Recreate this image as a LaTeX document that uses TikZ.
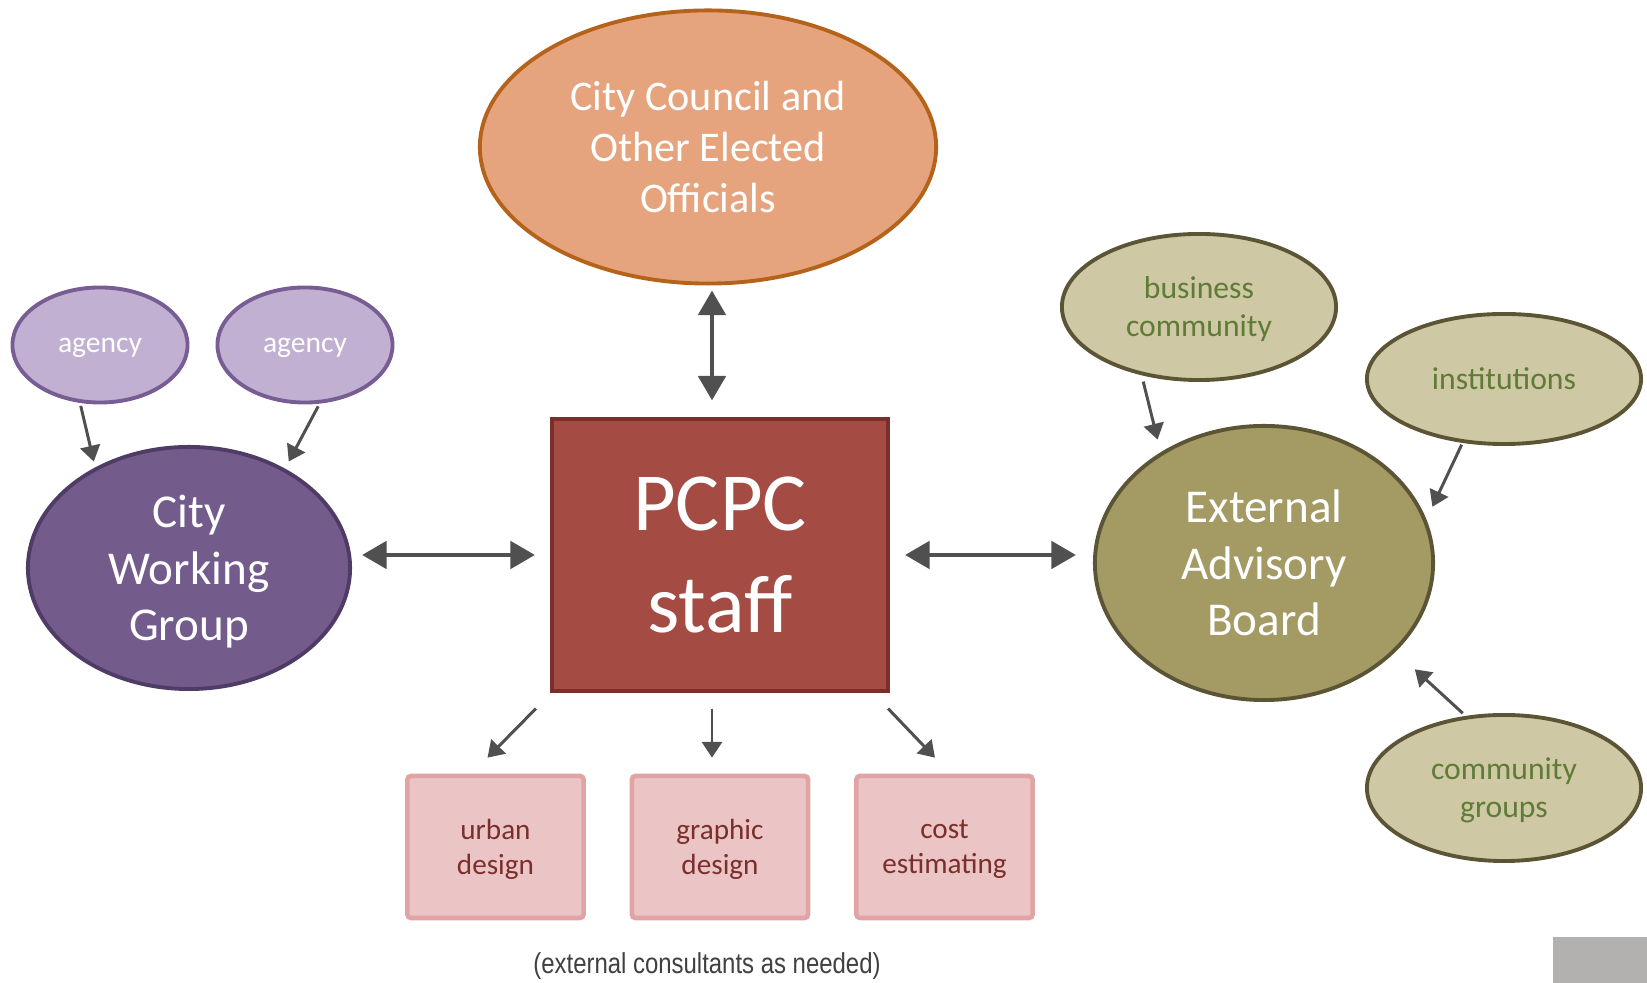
\documentclass[tikz,border=0pt]{standalone}
\usepackage{fontspec}
\setmainfont{Carlito}
\newfontfamily\capfont[FakeStretch=0.83]{Liberation Sans}
\usepackage{tikz}
\usetikzlibrary{arrows.meta,shapes.geometric,positioning,calc}
\usepackage{xcolor}

\definecolor{councilfill}{HTML}{E5A47D}
\definecolor{councilline}{HTML}{B5621A}
\definecolor{stafffill}{HTML}{A44B44}
\definecolor{staffline}{HTML}{7A2F2B}
\definecolor{cwgfill}{HTML}{735C8C}
\definecolor{cwgline}{HTML}{4E3B66}
\definecolor{agencyfill}{HTML}{C1B0D2}
\definecolor{agencyline}{HTML}{775D94}
\definecolor{eabfill}{HTML}{A39A64}
\definecolor{eabline}{HTML}{5B5536}
\definecolor{olivefill}{HTML}{CFC8A5}
\definecolor{olivetext}{HTML}{5F7B36}
\definecolor{pinkfill}{HTML}{EBC5C5}
\definecolor{pinkline}{HTML}{E0A4A4}
\definecolor{arrgray}{HTML}{505050}
\definecolor{capgray}{HTML}{404040}
\definecolor{cornergray}{HTML}{B3B0B0}

\begin{document}
\begin{tikzpicture}[x=0.01cm, y=-0.01cm,
    bigell/.style={ellipse, draw, line width=1.1pt, inner sep=0pt, text=white, align=center, text depth=0pt},
    smallell/.style={ellipse, draw, line width=1.1pt, inner sep=0pt, align=center, text depth=0pt},
    consult/.style={rectangle, draw=pinkline, fill=pinkfill, line width=1.3pt, rounded corners=1pt,
        minimum width=1.76cm, minimum height=1.42cm, inner sep=0pt, align=center, text=staffline,
        text depth=0pt, font=\fontsize{8.3}{9.9}\selectfont},
    dblarr/.style={arrows={Triangle[length=7pt,width=7.7pt]-Triangle[length=7pt,width=7.7pt]},
        line width=1.4pt, draw=arrgray},
    arr/.style={arrows={-Triangle[length=4.5pt,width=5.7pt]}, line width=0.85pt, draw=arrgray}]

    \useasboundingbox (0,0) rectangle (1647,983);

    % ---------------- Council ----------------
    \node[bigell, fill=councilfill, draw=councilline, minimum width=4.56cm, minimum height=2.73cm,
        font=\fontsize{12}{14.5}\selectfont] (council) at (708,147)
        {City Council and\\Other Elected\\Officials};

    % ---------------- Staff ----------------
    \node[rectangle, draw=staffline, fill=stafffill, line width=1.1pt, minimum width=3.36cm,
        minimum height=2.71cm, inner sep=0pt, text=white, align=center,
        font=\fontsize{23.5}{29}\selectfont] (staff) at (720,555) {PCPC\\staff};

    % ---------------- City working group ----------------
    \node[bigell, fill=cwgfill, draw=cwgline, minimum width=3.22cm, minimum height=2.42cm,
        font=\fontsize{13.4}{16.1}\selectfont] (cwg) at (189,568) {City\\Working\\Group};
    \node[smallell, fill=agencyfill, draw=agencyline, text=white, minimum width=1.75cm,
        minimum height=1.15cm, font=\fontsize{8.4}{10}\selectfont] (agencyA) at (100,345) {agency};
    \node[smallell, fill=agencyfill, draw=agencyline, text=white, minimum width=1.75cm,
        minimum height=1.15cm, font=\fontsize{8.4}{10}\selectfont] (agencyB) at (305,345) {agency};

    % ---------------- Advisory board ----------------
    \node[bigell, fill=eabfill, draw=eabline, minimum width=3.38cm, minimum height=2.74cm,
        font=\fontsize{13.4}{16.1}\selectfont] (eab) at (1264,563) {External\\Advisory\\Board};
    \node[smallell, fill=olivefill, draw=eabline, text=olivetext, minimum width=2.74cm,
        minimum height=1.46cm, font=\fontsize{9}{10.8}\selectfont] (biz) at (1199,307)
        {business\\community};
    \node[smallell, fill=olivefill, draw=eabline, text=olivetext, minimum width=2.74cm,
        minimum height=1.3cm, font=\fontsize{9}{10.8}\selectfont] (inst) at (1504,379) {institutions};
    \node[smallell, fill=olivefill, draw=eabline, text=olivetext, minimum width=2.74cm,
        minimum height=1.46cm, font=\fontsize{9}{10.8}\selectfont] (grp) at (1504,788)
        {community\\groups};

    % ---------------- Consultants ----------------
    \node[consult] (urban) at (495.5,847) {urban\\design};
    \node[consult] (graphic) at (720,847) {graphic\\design};
    \node[consult] (cost) at (944.5,847) {cost\\estimating};
    \node[font=\capfont\fontsize{8.2}{10}\selectfont, text=capgray, anchor=base, inner sep=0pt]
        (note) at (707,974) {(external consultants as needed)};

    \fill[cornergray] (1553,937) rectangle (1647,983);

    % ---------------- Arrows ----------------
    \draw[dblarr, shorten <=0.05cm, shorten >=0.17cm] ($(council.south)+(4,0)$) -- ($(council.south |- staff.north)+(4,0)$);
    \draw[dblarr, shorten <=0.1cm, shorten >=0.15cm] (cwg.east |- staff.west) -- (staff.west);
    \draw[dblarr, shorten <=0.15cm, shorten >=0.17cm] (staff.east) -- (staff.east -| eab.west);

    \draw[arr, shorten <=0.03cm, shorten >=0.06cm] (agencyA.-109) -- (cwg.133);
    \draw[arr, shorten <=0.03cm, shorten >=0.08cm] (agencyB.-76) -- (cwg.46);
    \draw[arr, shorten <=0.065cm, shorten >=0.13cm] (biz.-130) -- (eab.133.5);
    \draw[arr, shorten <=0.02cm, shorten >=0.14cm] (inst.-123) -- (eab.15.5);
    \draw[arr, shorten <=0.04cm, shorten >=0.26cm] (grp.118.5) -- (eab.-34);

    \draw[arr] ($(staff.south west)+(-14,16)$) -- ($(urban.north)+(-8,-16)$);
    \draw[arr] ($(staff.south)+(-8,16)$) -- ($(graphic.north)+(-8,-16)$);
    \draw[arr] ($(staff.south east)+(-2,16)$) -- ($(cost.north)+(-9.5,-16)$);

\end{tikzpicture}
\end{document}
